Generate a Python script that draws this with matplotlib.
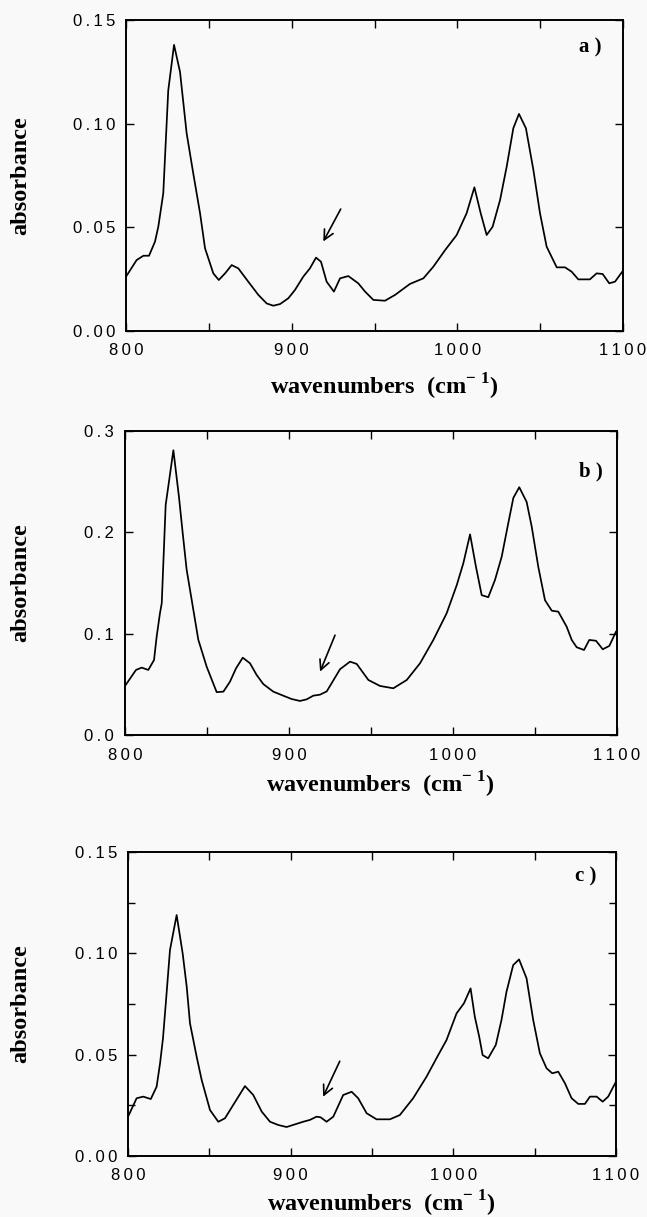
import numpy as np
import matplotlib.pyplot as plt
from matplotlib.ticker import MultipleLocator, FuncFormatter

plt.rcParams['mathtext.fontset'] = 'custom'
plt.rcParams['mathtext.rm'] = 'Liberation Serif:bold'
plt.rcParams['mathtext.bf'] = 'Liberation Serif:bold'

BG = '#f9f9f9'
SERIF = ['Liberation Serif', 'DejaVu Serif']
SANS = ['Liberation Sans', 'DejaVu Sans']

# спектр a)
wn_a = [800, 806.4, 810.5, 813.9, 817.5, 819.5, 822.5, 825.5, 829, 832.6, 836.6, 840.6,
        844.7, 847.7, 852.7, 856, 859.8, 863.8, 867.8, 873.8, 879.9, 884.9, 888.9, 893,
        898, 902, 907, 911, 914.7, 917.7, 921.1, 925.5, 929.2, 934.2, 940.2, 944.3,
        949.3, 956.3, 962.4, 971.4, 979.5, 985.5, 992.6, 999.6, 1005.6, 1010.3, 1014.1,
        1017.7, 1021.3, 1025.8, 1029.8, 1033.8, 1037.2, 1041.4, 1045.9, 1049.9, 1053.9,
        1060, 1065, 1069, 1073, 1080, 1084.1, 1087.7, 1091.7, 1095.2, 1100]
abs_a = [0.0262, 0.0342, 0.0363, 0.0363, 0.0431, 0.0503, 0.0664, 0.116, 0.138, 0.125,
         0.0954, 0.076, 0.0568, 0.0399, 0.0278, 0.0246, 0.0278, 0.0318, 0.0302, 0.0238,
         0.0174, 0.0133, 0.0122, 0.013, 0.0158, 0.0198, 0.0262, 0.0302, 0.0354, 0.0334,
         0.0238, 0.019, 0.0254, 0.0265, 0.023, 0.019, 0.015, 0.0146, 0.0174, 0.0227,
         0.0254, 0.031, 0.039, 0.0463, 0.0568, 0.0693, 0.0568, 0.0463, 0.0503, 0.0632,
         0.0793, 0.0978, 0.1047, 0.0978, 0.0777, 0.0568, 0.0407, 0.0307, 0.0307, 0.0286,
         0.0249, 0.0249, 0.0278, 0.0275, 0.023, 0.0238, 0.0291]

# спектр b)
wn_b = [800, 806.7, 810.2, 814.2, 817.7, 819.3, 821.3, 822.4, 824.8, 829.5, 832.9, 835.2,
        837.6, 840.7, 844.7, 849.8, 855.9, 860, 864, 867.7, 871.8, 876.2, 880.3, 884.3,
        890.4, 896.5, 901.6, 906.7, 910.8, 914.8, 918.9, 923, 931.1, 937.2, 941.3, 948.4,
        955.5, 963.6, 971.8, 979.9, 988, 996.1, 1002.3, 1006.3, 1010.4, 1014, 1017.5,
        1021.5, 1025.6, 1029.7, 1033.7, 1036.8, 1040.4, 1044.9, 1048, 1052, 1056.1,
        1060.2, 1064.2, 1069.3, 1072.4, 1075.4, 1079.9, 1083.1, 1087.2, 1091.3, 1095.3,
        1099.4]
abs_b = [0.0484, 0.0642, 0.0665, 0.0642, 0.074, 0.097, 0.12, 0.13, 0.227, 0.281, 0.235,
         0.199, 0.163, 0.133, 0.094, 0.0674, 0.0423, 0.0428, 0.0526, 0.0658, 0.0763,
         0.0708, 0.0592, 0.0503, 0.0428, 0.0388, 0.0355, 0.0336, 0.0352, 0.0388, 0.0398,
         0.043, 0.0649, 0.0724, 0.0701, 0.0543, 0.0484, 0.0461, 0.0543, 0.0708, 0.0938,
         0.12, 0.148, 0.1695, 0.198, 0.166, 0.138, 0.136, 0.153, 0.176, 0.209, 0.234,
         0.2445, 0.23, 0.2056, 0.166, 0.133, 0.1227, 0.1217, 0.1069, 0.0938, 0.0866,
         0.0839, 0.0938, 0.093, 0.0846, 0.0879, 0.102]

# спектр c)
wn_c = [800.2, 805.3, 809.4, 814, 817.6, 819.7, 821.5, 823.4, 825.8, 829.9, 833.6, 836.1,
        838.1, 842.2, 845.3, 850.4, 855.5, 859.6, 864.7, 871.9, 877, 882.2, 887.3, 892.4,
        897.5, 902.6, 907.7, 911.8, 915.9, 918.4, 922.1, 926.2, 932.3, 937.5, 941.5,
        946.7, 952.8, 961, 967.1, 975.3, 983.5, 990.7, 995.8, 1002, 1006.5, 1010.6,
        1013.2, 1015.9, 1018, 1021.4, 1026.1, 1029.6, 1032.7, 1036.8, 1040.4, 1045,
        1049.1, 1053.2, 1057.3, 1060.8, 1064.5, 1068.6, 1072.7, 1076.8, 1080.9, 1084,
        1088.1, 1091.8, 1095.2, 1100]
abs_c = [0.0197, 0.0285, 0.0293, 0.0281, 0.0342, 0.0457, 0.058, 0.077, 0.1016, 0.1189,
         0.1, 0.0835, 0.0655, 0.049, 0.0375, 0.0227, 0.0169, 0.0186, 0.0252, 0.0345,
         0.0301, 0.0219, 0.0169, 0.0153, 0.0143, 0.0156, 0.0169, 0.0178, 0.0194, 0.0191,
         0.0169, 0.0194, 0.0301, 0.0317, 0.0285, 0.0211, 0.0181, 0.0181, 0.0202, 0.0285,
         0.0391, 0.0498, 0.0572, 0.0704, 0.0753, 0.0827, 0.0687, 0.0589, 0.0498, 0.0482,
         0.0548, 0.0671, 0.0811, 0.0942, 0.097, 0.0877, 0.0671, 0.0507, 0.0433, 0.0408,
         0.0416, 0.0359, 0.0285, 0.0257, 0.0257, 0.0293, 0.0293, 0.0268, 0.0293, 0.0367]

panels = [
    # (x, y, метка, ymax, шаг, мелкий шаг, формат, стрелка (голова, хвост), позиция метки)
    (wn_a, abs_a, 'a )', 0.15, 0.05, None, '{:.2f}', ((918.3, 0.042), (930.4, 0.060)), (0.934, 0.913)),
    (wn_b, abs_b, 'b )', 0.3, 0.1, None, '{:.1f}', ((918.3, 0.060), (928.7, 0.101)), (0.947, 0.868)),
    (wn_c, abs_c, 'c )', 0.15, 0.05, 0.025, '{:.2f}', ((919.2, 0.028), (930.9, 0.048)), (0.938, 0.918)),
]
rects = [
    [126 / 647, 1 - 331 / 1217, 497 / 647, 311 / 1217],
    [125 / 647, 1 - 735 / 1217, 492 / 647, 304 / 1217],
    [128 / 647, 1 - 1156 / 1217, 488 / 647, 304 / 1217],
]
# базовая линия подписи оси x (доля высоты осей)
xlabel_y = [-0.203, -0.19, -0.184]


def spaced(s):
    # цифры в подписях делений набраны вразрядку
    return '\u2009'.join(s)


fig = plt.figure(figsize=(6.47, 12.17), dpi=100, facecolor=BG)

for rect, ly, (x, y, tag, ymax, step, minor, fmt, arrow, tagpos) in zip(rects, xlabel_y, panels):
    ax = fig.add_axes(rect)
    ax.set_facecolor(BG)
    ax.plot(x, y, color='black', lw=1.25)
    ax.set_xlim(800, 1100)
    ax.set_ylim(0, ymax)

    ax.xaxis.set_major_locator(MultipleLocator(50))
    ax.xaxis.set_major_formatter(FuncFormatter(
        lambda v, p: spaced('%d' % v) if round(v) % 100 == 0 else ''))
    ax.yaxis.set_major_locator(MultipleLocator(step))
    ax.yaxis.set_major_formatter(FuncFormatter(lambda v, p, f=fmt: spaced(f.format(v))))
    if minor:
        ax.yaxis.set_minor_locator(MultipleLocator(minor))
        ax.tick_params(which='minor', direction='in', length=5, width=1,
                       left=True, right=True)
    ax.tick_params(which='major', direction='in', length=6, width=1,
                   top=True, right=True, labelsize=12)
    ax.tick_params(axis='y', pad=8)
    ax.tick_params(axis='x', pad=9)
    for lab in ax.get_xticklabels() + ax.get_yticklabels():
        lab.set_family(SANS)
    for sp in ax.spines.values():
        sp.set_linewidth(1.4)

    fig.text(21 / 647, rect[1] + rect[3] / 2, 'absorbance', rotation=90,
             ha='center', va='center', family=SERIF, fontweight='bold', fontsize=17.5)
    ax.text(0.52, ly, r'wavenumbers  (cm$^{-\ 1}$)', transform=ax.transAxes,
            ha='center', va='baseline', family=SERIF, fontweight='bold', fontsize=17.5)

    ax.text(tagpos[0], tagpos[1], tag, transform=ax.transAxes, ha='center', va='center',
            family=SERIF, fontweight='bold', fontsize=15)
    ax.annotate('', xy=arrow[0], xytext=arrow[1],
                arrowprops=dict(arrowstyle='->, head_length=0.7, head_width=0.35',
                                color='black', lw=1.2))

fig.savefig('out.png', dpi=100, facecolor=BG)
